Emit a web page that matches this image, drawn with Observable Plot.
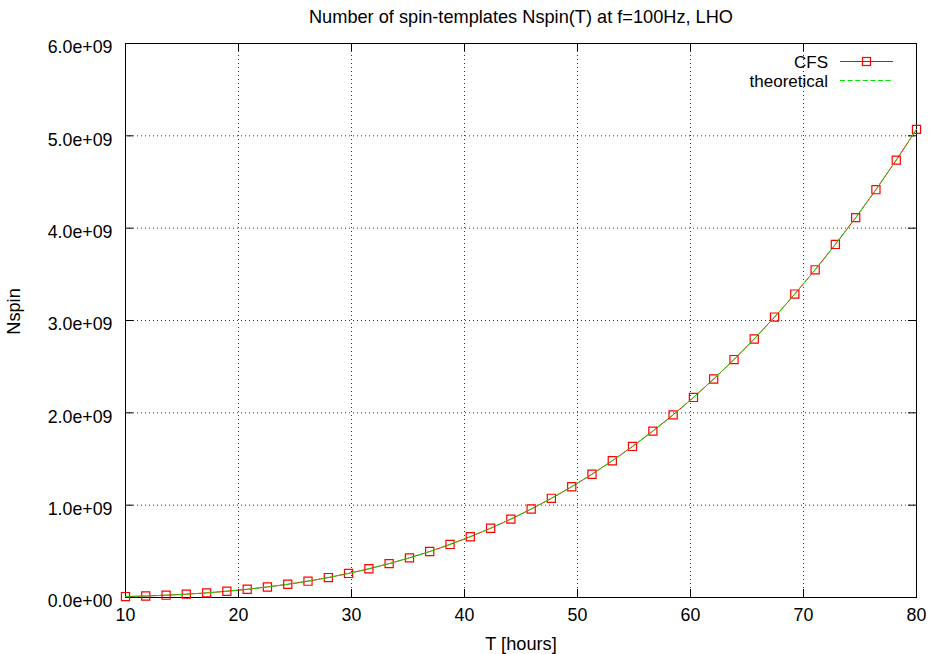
<!DOCTYPE html>
<html>
<head>
<meta charset="utf-8">
<script src="https://cdn.jsdelivr.net/npm/d3@7"></script>
<script src="https://cdn.jsdelivr.net/npm/@observablehq/plot@0.6"></script>
<style>
  html, body { margin: 0; padding: 0; background: #fff; }
  #chart svg { display: block; }
</style>
</head>
<body>
<div id="chart"></div>
<script>
// ---- data ----
const hours = [10.00, 11.79, 13.59, 15.38, 17.18, 18.97, 20.77, 22.56, 24.36, 26.15,
               27.95, 29.74, 31.54, 33.33, 35.13, 36.92, 38.72, 40.51, 42.31, 44.10,
               45.90, 47.69, 49.49, 51.28, 53.08, 54.87, 56.67, 58.46, 60.26, 62.05,
               63.85, 65.64, 67.44, 69.23, 71.03, 72.82, 74.62, 76.41, 78.21, 80.00];
const nspinCFS = [0.010e9, 0.016e9, 0.025e9, 0.036e9, 0.050e9, 0.068e9, 0.089e9, 0.114e9, 0.143e9, 0.177e9,
                  0.216e9, 0.261e9, 0.311e9, 0.367e9, 0.429e9, 0.498e9, 0.575e9, 0.658e9, 0.750e9, 0.849e9,
                  0.958e9, 1.074e9, 1.200e9, 1.335e9, 1.481e9, 1.636e9, 1.802e9, 1.978e9, 2.167e9, 2.366e9,
                  2.577e9, 2.800e9, 3.037e9, 3.286e9, 3.549e9, 3.824e9, 4.114e9, 4.417e9, 4.737e9, 5.070e9];
const nspinTheory = [0.010e9, 0.016e9, 0.025e9, 0.036e9, 0.050e9, 0.068e9, 0.089e9, 0.114e9, 0.143e9, 0.177e9,
                     0.216e9, 0.261e9, 0.311e9, 0.367e9, 0.429e9, 0.498e9, 0.575e9, 0.658e9, 0.750e9, 0.849e9,
                     0.958e9, 1.074e9, 1.200e9, 1.335e9, 1.481e9, 1.636e9, 1.802e9, 1.978e9, 2.167e9, 2.366e9,
                     2.577e9, 2.800e9, 3.037e9, 3.286e9, 3.549e9, 3.824e9, 4.114e9, 4.417e9, 4.737e9, 5.070e9];
const xTicks = [10, 20, 30, 40, 50, 60, 70, 80];
const xTickLabels = ["10", "20", "30", "40", "50", "60", "70", "80"];
const yTicks = [0, 1e9, 2e9, 3e9, 4e9, 5e9, 6e9];
const yTickLabels = ["0.0e+00", "1.0e+09", "2.0e+09", "3.0e+09", "4.0e+09", "5.0e+09", "6.0e+09"];
const seriesNames = ["CFS", "theoretical"];
const titleText = "Number of spin-templates Nspin(T) at f=100Hz, LHO";
const xLabel = "T [hours]";
const yLabel = "Nspin";

const cfs = hours.map((t, i) => ({t, n: nspinCFS[i]}));
const theory = hours.map((t, i) => ({t, n: nspinTheory[i]}));

const W = 931, H = 654;
const mL = 125, mR = 15, mT = 43, mB = 57;
const innerW = W - mL - mR, innerH = H - mT - mB;
const tickLen = 8;
const red = "#ff0000", green = "#00e600";
const font = "'Liberation Sans', Arial, Helvetica, sans-serif";
const labelSize = 18.2, tickSize = 17.8;

const svg = Plot.plot({
  width: W, height: H,
  marginLeft: mL, marginRight: mR, marginTop: mT, marginBottom: mB,
  style: {fontFamily: font, fontSize: tickSize + "px", color: "#000", background: "#fff"},
  x: {domain: [10, 80], axis: null},
  y: {domain: [0, 6e9], axis: null},
  marks: [
    // dotted grid
    Plot.ruleX(xTicks.slice(1, -1), {x: d => d, stroke: "#000", strokeOpacity: 0.8, strokeDasharray: "1,3"}),
    Plot.ruleY(yTicks.slice(1, -1), {y: d => d, stroke: "#000", strokeOpacity: 0.8, strokeDasharray: "1,3"}),
    // inward ticks (with mirror)
    Plot.tickX(xTicks, {x: d => d, insetTop: innerH - tickLen, stroke: "#000"}),
    Plot.tickX(xTicks, {x: d => d, insetBottom: innerH - tickLen, stroke: "#000"}),
    Plot.tickY(yTicks, {y: d => d, insetRight: innerW - tickLen, stroke: "#000"}),
    Plot.tickY(yTicks, {y: d => d, insetLeft: innerW - tickLen, stroke: "#000"}),
    Plot.frame({stroke: "#000", strokeWidth: 1}),
    // tick labels
    Plot.axisX(xTicks, {anchor: "bottom", tickSize: 0, tickPadding: 11, label: null,
      tickFormat: d => xTickLabels[xTicks.indexOf(d)], fontSize: tickSize}),
    Plot.axisY(yTicks, {anchor: "left", tickSize: 0, tickPadding: 13, label: null, dy: 4,
      tickFormat: d => yTickLabels[yTicks.indexOf(d)], fontSize: tickSize}),
    // data
    Plot.line(cfs, {x: "t", y: "n", stroke: red, strokeWidth: 1}),
    Plot.dot(cfs, {x: "t", y: "n", symbol: "square", r: 4.6, stroke: red, fill: "none", strokeWidth: 1.2}),
    Plot.line(theory, {x: "t", y: "n", stroke: green, strokeWidth: 1, strokeDasharray: "5,2.6"}),
    // title and axis labels
    Plot.text([titleText], {text: d => d, frameAnchor: "top", textAnchor: "middle", lineAnchor: "middle",
      dy: -26, fontSize: labelSize}),
    Plot.text([xLabel], {text: d => d, frameAnchor: "bottom", textAnchor: "middle", lineAnchor: "middle",
      dy: 46.5, fontSize: labelSize}),
    Plot.text([yLabel], {text: d => d, frameAnchor: "left", textAnchor: "middle", lineAnchor: "middle",
      dx: -111, dy: -9, rotate: -90, fontSize: labelSize})
  ]
});

// legend (top right, inside the frame)
const legendSize = 17;
const lg = d3.select(svg).append("g").attr("font-family", font).attr("font-size", legendSize);
const legendRows = [
  {name: seriesNames[0], stroke: red, dash: null, marker: true},
  {name: seriesNames[1], stroke: green, dash: "5,2.6", marker: false}
];
legendRows.forEach((r, i) => {
  const yLine = 61.5 + i * 19;
  lg.append("text").attr("x", 828).attr("y", yLine + 6).attr("text-anchor", "end").attr("fill", "#000").text(r.name);
  const ln = lg.append("line").attr("x1", 840).attr("x2", 893).attr("y1", yLine).attr("y2", yLine)
    .attr("stroke", r.stroke).attr("stroke-width", 1);
  if (r.dash) ln.attr("stroke-dasharray", r.dash);
  if (r.marker) lg.append("rect").attr("x", 866.5 - 4).attr("y", yLine - 4).attr("width", 8).attr("height", 8)
    .attr("fill", "none").attr("stroke", r.stroke).attr("stroke-width", 1.2);
});

document.getElementById("chart").appendChild(svg);
</script>
</body>
</html>
